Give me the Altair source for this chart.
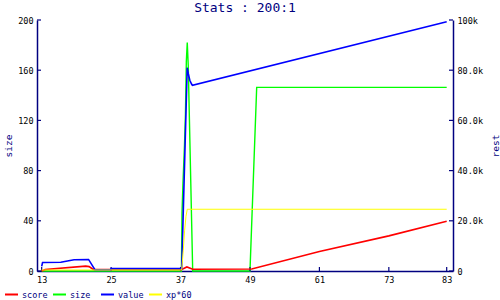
import altair as alt
import pandas as pd

# ---- data ----
size_x = [13, 37.15, 37.25, 37.42, 37.68, 37.85, 38.0, 38.16, 38.33, 39.1, 49.0, 50.16, 83]
size_v = [0, 0, 46, 70, 100, 125, 167, 182, 164, 0, 0, 146.3, 146.3]

score_x = [13, 13.6, 20.6, 21.2, 21.9, 37.2, 38.1, 39.1, 49.3, 61, 73, 83]
score_v = [0, 600, 1950, 1750, 600, 600, 1600, 700, 800, 7750, 14000, 19800]

value_x = [13, 13.15, 16.3, 18.6, 21.1, 22.2, 24.9, 25.0, 37.2, 38.15, 38.35, 38.6, 38.9, 39.05, 83]
value_v = [1850, 3400, 3500, 4500, 4600, 500, 500, 950, 950, 81000, 78500, 76000, 74500, 74000, 99300]

xp_x = [13, 37.2, 37.47, 37.71, 37.94, 38.16, 83]
xp_v = [400, 400, 8250, 16250, 21800, 24600, 24600]

series_names = ["score", "size", "value", "xp*60"]
series_colors = ["#ff0000", "#00ff00", "#0000ff", "#ffff00"]

x_ticks = [13, 25, 37, 49, 61, 73, 83]
size_ticks = [0, 40, 80, 120, 160, 200]
rest_ticks = [0, 20000, 40000, 60000, 80000, 100000]

NAVY = "#000080"
FONT = "DejaVu Sans Mono"
W, H = 416, 251


def frame(xs, vs, name):
    return pd.DataFrame({"x": xs, "v": vs, "series": [name] * len(xs)})


xscale = alt.Scale(domain=[12.19, 84.09], nice=False, zero=False)
lscale = alt.Scale(domain=[0, 200], nice=False)
rscale = alt.Scale(domain=[0, 100000], nice=False)

xaxis = alt.Axis(title=None, values=x_ticks, ticks=False, labelPadding=4,
                 domainColor=NAVY, domainWidth=1.5, grid=False,
                 labelFont=FONT, labelFontSize=8.5, labelColor="black")
laxis = alt.Axis(title="size", orient="left", values=size_ticks, ticks=False,
                 labelPadding=4, titlePadding=4, titleAngle=-90,
                 domainColor=NAVY, domainWidth=1.5, grid=False,
                 labelFont=FONT, labelFontSize=8.5, labelColor="black",
                 titleFont=FONT, titleFontSize=9.5, titleColor=NAVY,
                 titleFontWeight="normal")
raxis = alt.Axis(title="rest", orient="right", values=rest_ticks, ticks=False,
                 labelExpr="datum.value == 0 ? '0' : (datum.value >= 100000 ? '100k' : format(datum.value / 1000, '.1f') + 'k')",
                 labelPadding=4, titlePadding=8, titleAngle=-90, titleBaseline="top",
                 domainColor=NAVY, domainWidth=1.5, grid=False,
                 labelFont=FONT, labelFontSize=8.5, labelColor="black",
                 titleFont=FONT, titleFontSize=9.5, titleColor=NAVY,
                 titleFontWeight="normal")

legend = alt.Legend(title=None, orient="none", legendX=-33, legendY=267,
                    direction="horizontal", columns=4, columnPadding=1,
                    symbolType="stroke", symbolSize=169, symbolStrokeWidth=2,
                    labelFont=FONT, labelFontSize=8.5, labelColor=NAVY,
                    labelOffset=3, padding=0, gridAlign="all")
cscale = alt.Scale(domain=series_names, range=series_colors)


def line(df, yscale, yaxis, width):
    return alt.Chart(df).mark_line(strokeWidth=width).encode(
        x=alt.X("x:Q", scale=xscale, axis=xaxis),
        y=alt.Y("v:Q", scale=yscale, axis=yaxis),
        color=alt.Color("series:N", scale=cscale, legend=legend),
    )


size_line = line(frame(size_x, size_v, "size"), lscale, laxis, 1.4)
score_line = line(frame(score_x, score_v, "score"), rscale, raxis, 1.6)
value_line = line(frame(value_x, value_v, "value"), rscale, raxis, 1.6)
xp_line = line(frame(xp_x, xp_v, "xp*60"), rscale, raxis, 1.0)

xt = alt.Chart(pd.DataFrame({"t": x_ticks})).mark_rule(color=NAVY, strokeWidth=1.2).encode(
    x=alt.X("t:Q", scale=xscale, axis=xaxis), y=alt.value(H), y2=alt.value(H - 4))
lt = alt.Chart(pd.DataFrame({"v": size_ticks})).mark_rule(color=NAVY, strokeWidth=1.2).encode(
    y=alt.Y("v:Q", scale=lscale, axis=laxis), x=alt.value(0), x2=alt.value(4))
rt = alt.Chart(pd.DataFrame({"v": rest_ticks})).mark_rule(color=NAVY, strokeWidth=1.2).encode(
    y=alt.Y("v:Q", scale=rscale, axis=raxis), x=alt.value(W), x2=alt.value(W - 4))

left = alt.layer(size_line, lt, xt)
right = alt.layer(score_line, value_line, xp_line, rt)

chart = alt.layer(left, right).resolve_scale(y="independent").properties(
    width=W, height=H,
    autosize=alt.AutoSizeParams(type="none"),
    padding={"left": 37, "top": 20, "right": 47, "bottom": 29},
    title=alt.TitleParams("Stats : 200:1", font=FONT, fontSize=13, color=NAVY,
                          fontWeight="normal", anchor="middle", offset=6, dy=5),
).configure_view(stroke=None)

chart.save("out.html", embed_options={"renderer": "svg", "actions": False})
